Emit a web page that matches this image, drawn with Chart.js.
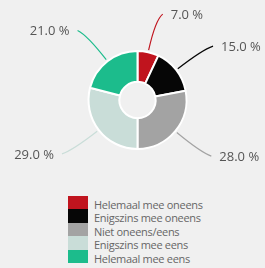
<!DOCTYPE html>
<html lang="nl">
<head>
    <meta charset="UTF-8">
    <title>Donut</title>
    <style>
        html, body {
            margin: 0;
            padding: 0;
            width: 265px;
            height: 268px;
            background-color: #f0f0f0;
            overflow: hidden;
            font-family: 'Open Sans', sans-serif;
        }
        .chart-box {
            position: absolute;
            left: 0;
            top: 0;
            width: 265px;
            height: 190px;
        }
        #legend {
            position: absolute;
            left: 68px;
            top: 196px;
        }
        .row {
            display: flex;
            height: 13.4px;
            align-items: flex-start;
        }
        .swatch {
            width: 20px;
            height: 13.4px;
            margin-right: 6px;
        }
        .label {
            font-size: 11px;
            line-height: 11px;
            color: #666;
            padding-top: 3px;
            letter-spacing: -0.3px;
        }
    </style>
    <script src="https://cdn.jsdelivr.net/npm/chart.js@4.4.1/dist/chart.umd.min.js"></script>
</head>
<body>
    <div class="chart-box"><canvas id="myChart"></canvas></div>
    <div id="legend"></div>
    <script>
        const categories = ['Helemaal mee oneens', 'Enigszins mee oneens', 'Niet oneens/eens', 'Enigszins mee eens', 'Helemaal mee eens'];
        const values = [7, 15, 28, 29, 21];
        const colors = ['#c0141e', '#060606', '#a3a3a3', '#c9ddd8', '#1cbc8c'];

        // labels with curved leader lines
        const leaderLines = {
            id: 'leaderLines',
            afterDatasetsDraw(chart) {
                const ctx = chart.ctx;
                const meta = chart.getDatasetMeta(0);
                ctx.save();
                ctx.font = '13px "Open Sans", sans-serif';
                ctx.fillStyle = '#555';
                ctx.textBaseline = 'middle';
                meta.data.forEach((arc, i) => {
                    const a = (arc.startAngle + arc.endAngle) / 2;
                    const cx = arc.x, cy = arc.y, r = arc.outerRadius;
                    const c = Math.cos(a), s = Math.sin(a);
                    const right = c >= 0;
                    const dir = right ? 1 : -1;
                    const x0 = cx + (r + 2) * c, y0 = cy + (r + 2) * s;
                    const x1 = cx + 82 * c, y1 = cy + 82 * s;
                    const x2 = cx + 88 * c + 6 * dir, y2 = cy + 88 * s;
                    ctx.strokeStyle = colors[i];
                    ctx.lineWidth = 1.2;
                    ctx.beginPath();
                    ctx.moveTo(x0, y0);
                    ctx.quadraticCurveTo(x1, y1, x2, y2);
                    ctx.stroke();
                    ctx.textAlign = right ? 'left' : 'right';
                    ctx.fillText(values[i].toFixed(1) + ' %', x2 + 8 * dir, y2 + 1);
                });
                ctx.restore();
            }
        };

        new Chart(document.getElementById('myChart'), {
            type: 'doughnut',
            data: {
                labels: categories,
                datasets: [{
                    data: values,
                    backgroundColor: colors,
                    borderColor: '#ffffff',
                    borderWidth: 2
                }]
            },
            options: {
                responsive: true,
                maintainAspectRatio: false,
                animation: false,
                cutout: '37%',
                layout: {
                    padding: { top: 50, bottom: 40, left: 10, right: 0 }
                },
                plugins: {
                    legend: { display: false },
                    tooltip: { enabled: false }
                }
            },
            plugins: [leaderLines]
        });

        const legend = document.getElementById('legend');
        categories.forEach((name, i) => {
            legend.innerHTML += `<div class="row"><div class="swatch" style="background:${colors[i]}"></div><div class="label">${name}</div></div>`;
        });
    </script>
</body>
</html>
